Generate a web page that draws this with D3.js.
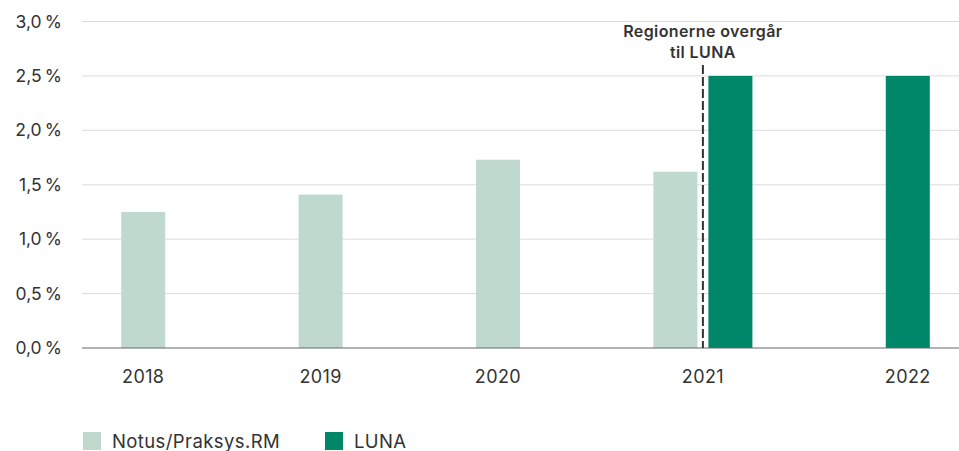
<!DOCTYPE html>
<html>
<head>
<meta charset="utf-8">
<script src="https://cdn.jsdelivr.net/npm/d3@7"></script>
<style>
  body { margin: 0; background: #fff; }
  svg { display: block; font-family: Inter, "Noto Sans", sans-serif; }
</style>
</head>
<body>
<div id="chart"></div>
<script>
const years = ["2018", "2019", "2020", "2021", "2022"];
const seriesNames = ["Notus/Praksys.RM", "LUNA"];
const notusValues = [1.25, 1.41, 1.73, 1.62, null];
const lunaValues = [null, null, null, 2.5, 2.5];
const yTicks = [0, 0.5, 1, 1.5, 2, 2.5, 3];
const colors = ["#bfd9cf", "#00876a"];

const width = 959, height = 451;
const margin = { top: 21.5, right: -10, bottom: 103, left: 82 };

const svg = d3.select("#chart").append("svg")
  .attr("width", width)
  .attr("height", height);

const x0 = d3.scaleBand().domain(years)
  .range([margin.left, width - margin.right]);
const x1 = d3.scaleBand().domain(seriesNames)
  .range([-55, 55]).paddingInner(0.2).paddingOuter(0.1);
const y = d3.scaleLinear().domain([0, 3])
  .range([height - margin.bottom, margin.top]);

const fmt = v => d3.format(".1f")(v).replace(".", ",") + "\u2009%";

// grid
svg.append("g").selectAll("line")
  .data(yTicks.filter(d => d > 0))
  .enter().append("line")
  .attr("x1", margin.left).attr("x2", width)
  .attr("y1", d => y(d)).attr("y2", d => y(d))
  .attr("stroke", "#dcdcdc").attr("stroke-width", 1);

svg.append("g").selectAll("text")
  .data(yTicks)
  .enter().append("text")
  .attr("x", 62).attr("y", d => y(d))
  .attr("dy", "0.35em")
  .attr("text-anchor", "end")
  .attr("font-size", "17.5px")
  .attr("fill", "#333")
  .text(fmt);

// bars
const rows = [];
years.forEach((yr, i) => {
  [notusValues[i], lunaValues[i]].forEach((v, k) => {
    if (v != null) rows.push({ year: yr, series: seriesNames[k], k: k, value: v });
  });
});

const bw = x1.bandwidth();
const barX = d => x0(d.year) + x0.bandwidth() / 2 + x1(d.series);

svg.append("g").selectAll("rect")
  .data(rows)
  .enter().append("rect")
  .attr("x", barX)
  .attr("y", d => y(d.value))
  .attr("width", bw)
  .attr("height", d => y(0) - y(d.value))
  .attr("fill", d => colors[d.k]);

// baseline
svg.append("line")
  .attr("x1", margin.left).attr("x2", width)
  .attr("y1", y(0)).attr("y2", y(0))
  .attr("stroke", "#666").attr("stroke-width", 1.2);

// year labels centred under the bars that exist
svg.append("g").selectAll("text")
  .data(years)
  .enter().append("text")
  .attr("x", yr => d3.mean(rows.filter(r => r.year === yr), r => barX(r) + bw / 2))
  .attr("y", 377)
  .attr("dy", "0.35em")
  .attr("text-anchor", "middle")
  .attr("font-size", "18px")
  .attr("letter-spacing", "0.4px")
  .attr("fill", "#333")
  .text(d => d);

// annotation: switch to LUNA
const ax = x0("2021") + x0.bandwidth() / 2;
svg.append("line")
  .attr("x1", ax).attr("x2", ax)
  .attr("y1", 65).attr("y2", y(0))
  .attr("stroke", "#333").attr("stroke-width", 2)
  .attr("stroke-dasharray", "9,3");

const note = svg.append("text")
  .attr("x", ax).attr("text-anchor", "middle")
  .attr("font-size", "16px").attr("font-weight", 600)
  .attr("letter-spacing", "0.4px")
  .attr("fill", "#333");
note.append("tspan").attr("x", ax).attr("y", 37).text("Regionerne overgår");
note.append("tspan").attr("x", ax).attr("y", 58).text("til LUNA");

// legend
const legend = svg.append("g").selectAll("g")
  .data(seriesNames)
  .enter().append("g")
  .attr("transform", (d, i) => `translate(${[83, 325][i]},432)`);
legend.append("rect")
  .attr("width", 18).attr("height", 18)
  .attr("fill", (d, i) => colors[i]);
legend.append("text")
  .attr("x", 29).attr("y", 10).attr("dy", "0.35em")
  .attr("font-size", "18.5px").attr("fill", "#333")
  .attr("letter-spacing", "0.4px")
  .text(d => d);
</script>
</body>
</html>
